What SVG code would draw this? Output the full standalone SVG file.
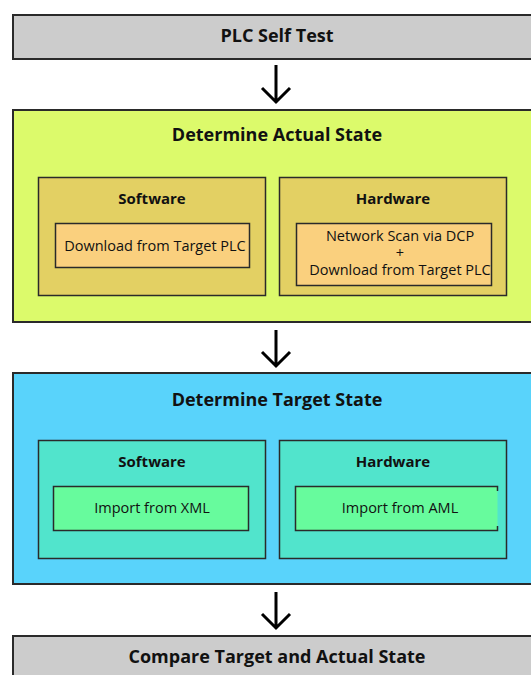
<svg xmlns="http://www.w3.org/2000/svg" width="531" height="675" viewBox="0 0 531 675">
<defs>
<style>
.outer{stroke:#2a2a2a;stroke-width:2}
.box{stroke:#2a2a2a;stroke-width:1.5}
.title{font-family:"Open Sans","Noto Sans",sans-serif;font-weight:bold;font-size:18px;fill:#111;text-anchor:middle}
.sub{font-family:"Open Sans","Noto Sans",sans-serif;font-weight:bold;font-size:15px;fill:#111;text-anchor:middle}
.txt{font-family:"Open Sans","Noto Sans",sans-serif;font-size:14.5px;fill:#111;text-anchor:middle}
.arrow{stroke:#000;stroke-width:3;fill:none}
</style>
</defs>
<rect width="531" height="675" fill="#fff"/>
<g id="plc-self-test">
<rect class="outer" x="13" y="15" width="530" height="44" fill="#cccccc"/>
<text class="title" x="277" y="42">PLC Self Test</text>
</g>
<g id="actual-state">
<rect class="outer" x="13" y="110" width="530" height="212" fill="#dcfa6b"/>
<text class="title" x="277" y="141">Determine Actual State</text>
<g id="actual-software">
<rect class="box" x="38.5" y="177.5" width="227" height="118" fill="#e3d063"/>
<text class="sub" x="152" y="204">Software</text>
<rect class="box" x="55.5" y="223.5" width="194" height="44" fill="#fad07e"/>
<text class="txt" x="155" y="251">Download from Target PLC</text>
</g>
<g id="actual-hardware">
<rect class="box" x="279.5" y="177.5" width="227" height="118" fill="#e3d063"/>
<text class="sub" x="393" y="204">Hardware</text>
<rect class="box" x="296.5" y="223.5" width="195" height="62" fill="#fad07e"/>
<text class="txt" x="400" y="241">Network Scan via DCP</text>
<text class="txt" x="400" y="258">+</text>
<text class="txt" x="400" y="275">Download from Target PLC</text>
</g>
</g>
<g id="target-state">
<rect class="outer" x="13" y="373" width="530" height="211" fill="#59d3fb"/>
<text class="title" x="277" y="406">Determine Target State</text>
<g id="target-software">
<rect class="box" x="38.5" y="440.5" width="227" height="118" fill="#51e4cc"/>
<text class="sub" x="152" y="467">Software</text>
<rect class="box" x="53.5" y="486.5" width="195" height="44" fill="#67fb9d"/>
<text class="txt" x="152" y="513">Import from XML</text>
</g>
<g id="target-hardware">
<rect class="box" x="279.5" y="440.5" width="227" height="118" fill="#51e4cc"/>
<text class="sub" x="393" y="467">Hardware</text>
<rect x="295.5" y="486.5" width="202" height="44" fill="#67fb9d"/>
<path class="box" fill="none" d="M497.5,491 V486.5 H295.5 V530.5 H497.5 V526"/>
<text class="txt" x="400" y="513">Import from AML</text>
</g>
</g>
<g id="compare">
<rect class="outer" x="13" y="636" width="530" height="50" fill="#cccccc"/>
<text class="title" x="277" y="663">Compare Target and Actual State</text>
</g>
<g id="connectors">
<path class="arrow" d="M276,65 V102 M262,88 L276,102 L290,88"/>
<path class="arrow" d="M276,330 V366 M262,352 L276,366 L290,352"/>
<path class="arrow" d="M276,592 V628 M262,614 L276,628 L290,614"/>
</g>
</svg>
